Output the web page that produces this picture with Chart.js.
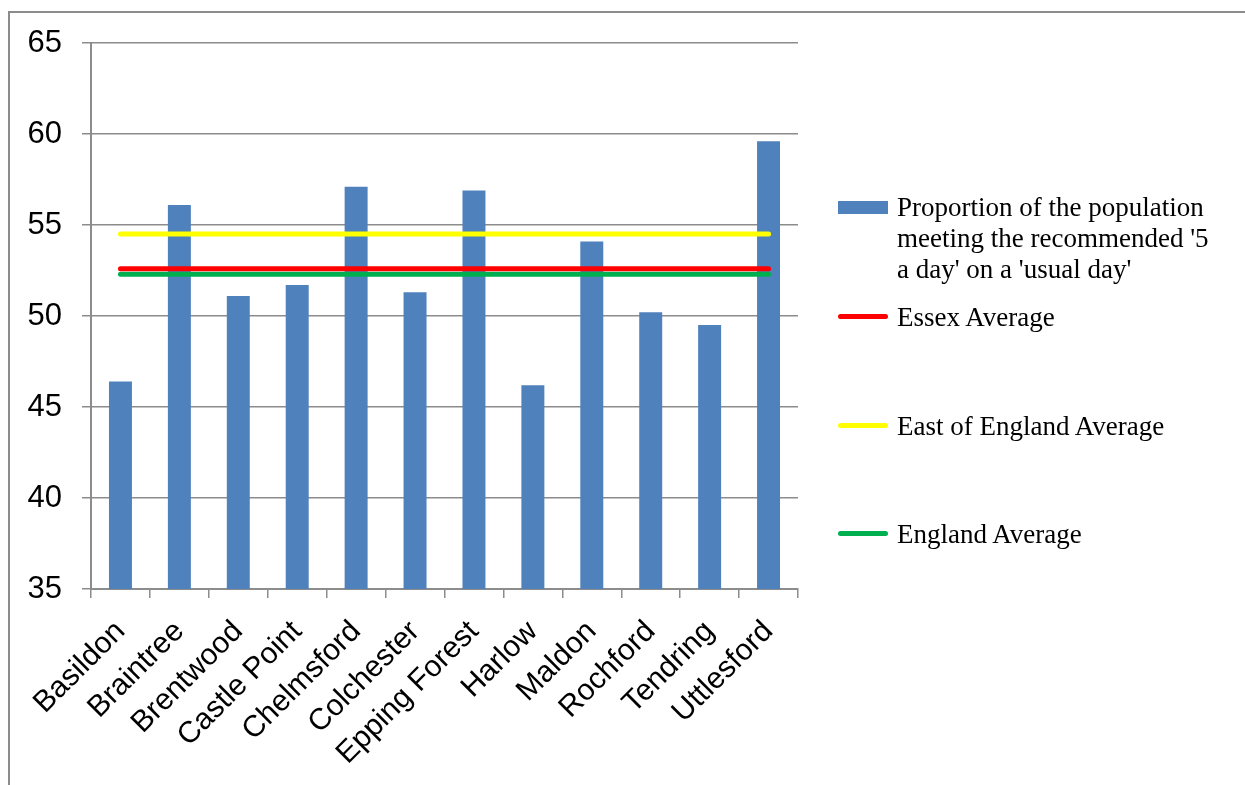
<!DOCTYPE html>
<html>
<head>
<meta charset="utf-8">
<title>5 a day - Essex districts</title>
<script src="https://cdn.jsdelivr.net/npm/chart.js@4.4.1/dist/chart.umd.min.js"></script>
<style>
    body { margin: 0; background: #fff; }
    #wrap { position: relative; width: 1245px; height: 785px; }
    #frame {
        position: absolute; left: 8px; top: 11px; right: 0; bottom: 0;
        border-left: 2px solid #8c8c8c; border-top: 2px solid #8c8c8c;
    }
    #legend { position: absolute; left: 0; top: 0; font-family: 'Liberation Serif', serif; font-size: 27px; color: #000; }
    .item { position: absolute; left: 838px; }
    .swatch { position: absolute; left: 0; width: 50px; }
    .text { position: absolute; left: 59px; white-space: pre; line-height: 31px; }
</style>
</head>
<body>
<div id="wrap">
    <div id="frame"></div>
    <canvas id="fiveADayChart" width="1245" height="785"></canvas>
    <div id="legend"></div>
</div>
<script>
var districts = ['Basildon', 'Braintree', 'Brentwood', 'Castle Point', 'Chelmsford', 'Colchester',
    'Epping Forest', 'Harlow', 'Maldon', 'Rochford', 'Tendring', 'Uttlesford'];
var fiveADay = [46.4, 56.1, 51.1, 51.7, 57.1, 51.3, 56.9, 46.2, 54.1, 50.2, 49.5, 59.6];
var essexAverage = [52.6, 52.6, 52.6, 52.6, 52.6, 52.6, 52.6, 52.6, 52.6, 52.6, 52.6, 52.6];
var eastAverage = [54.5, 54.5, 54.5, 54.5, 54.5, 54.5, 54.5, 54.5, 54.5, 54.5, 54.5, 54.5];
var englandAverage = [52.3, 52.3, 52.3, 52.3, 52.3, 52.3, 52.3, 52.3, 52.3, 52.3, 52.3, 52.3];
var yTicks = [35, 40, 45, 50, 55, 60, 65];

var gridColour = '#8c8c8c';

function lineSet(label, values, colour, order) {
    return {
        type: 'line',
        label: label,
        data: values,
        borderColor: colour,
        backgroundColor: colour,
        borderWidth: 5,
        borderCapStyle: 'round',
        pointRadius: 0,
        order: order
    };
}

var canvas = document.getElementById('fiveADayChart');
var chart = new Chart(canvas.getContext('2d'), {
    type: 'bar',
    data: {
        labels: districts,
        datasets: [
            {
                label: "Proportion of the population\nmeeting the recommended '5\na day' on a 'usual day'",
                data: fiveADay,
                backgroundColor: '#4f81bd',
                barPercentage: 0.39,
                categoryPercentage: 1,
                order: 3
            },
            lineSet('Essex Average', essexAverage, '#ff0000', 1),
            lineSet('East of England Average', eastAverage, '#ffff00', 2),
            lineSet('England Average', englandAverage, '#00b050', 2)
        ]
    },
    options: {
        responsive: false,
        animation: false,
        layout: {
            padding: { top: 43, right: 447, left: 0, bottom: 0 }
        },
        plugins: {
            legend: { display: false },
            tooltip: { enabled: false }
        },
        scales: {
            x: {
                grid: {
                    display: true,
                    drawOnChartArea: false,
                    offset: true,
                    tickLength: 9,
                    color: gridColour,
                    lineWidth: 1.5
                },
                border: { display: true, color: gridColour, width: 2 },
                ticks: {
                    minRotation: 45,
                    maxRotation: 45,
                    padding: 16,
                    color: '#000',
                    font: { family: 'Liberation Sans', size: 30 }
                },
                afterFit: function(scale) {
                    scale.height = 196;
                }
            },
            y: {
                min: 35,
                max: 65,
                afterBuildTicks: function(scale) {
                    scale.ticks = yTicks.map(function(v) { return { value: v }; });
                },
                grid: {
                    color: gridColour,
                    lineWidth: 1.5,
                    tickLength: 9
                },
                border: { display: true, color: gridColour, width: 2 },
                ticks: {
                    padding: 20,
                    color: '#000',
                    font: { family: 'Liberation Sans', size: 31 }
                },
                afterFit: function(scale) {
                    scale.width = 91;
                }
            }
        }
    }
});

// Legend drawn as html so the long label can sit on three lines.
var legendRows = [
    { top: 201, height: 13, textTop: 192 },
    { top: 314, height: 5, textTop: 302 },
    { top: 423, height: 5, textTop: 411 },
    { top: 531, height: 5, textTop: 519 }
];
var legend = document.getElementById('legend');
chart.data.datasets.forEach(function(ds, i) {
    var row = legendRows[i];
    var item = document.createElement('div');
    item.className = 'item';
    var sw = document.createElement('div');
    sw.className = 'swatch';
    sw.style.top = row.top + 'px';
    sw.style.height = row.height + 'px';
    sw.style.background = ds.backgroundColor;
    if (ds.type === 'line') {
        sw.style.borderRadius = '3px';
    }
    var tx = document.createElement('div');
    tx.className = 'text';
    tx.style.top = row.textTop + 'px';
    tx.textContent = ds.label;
    item.appendChild(sw);
    item.appendChild(tx);
    legend.appendChild(item);
});
</script>
</body>
</html>
